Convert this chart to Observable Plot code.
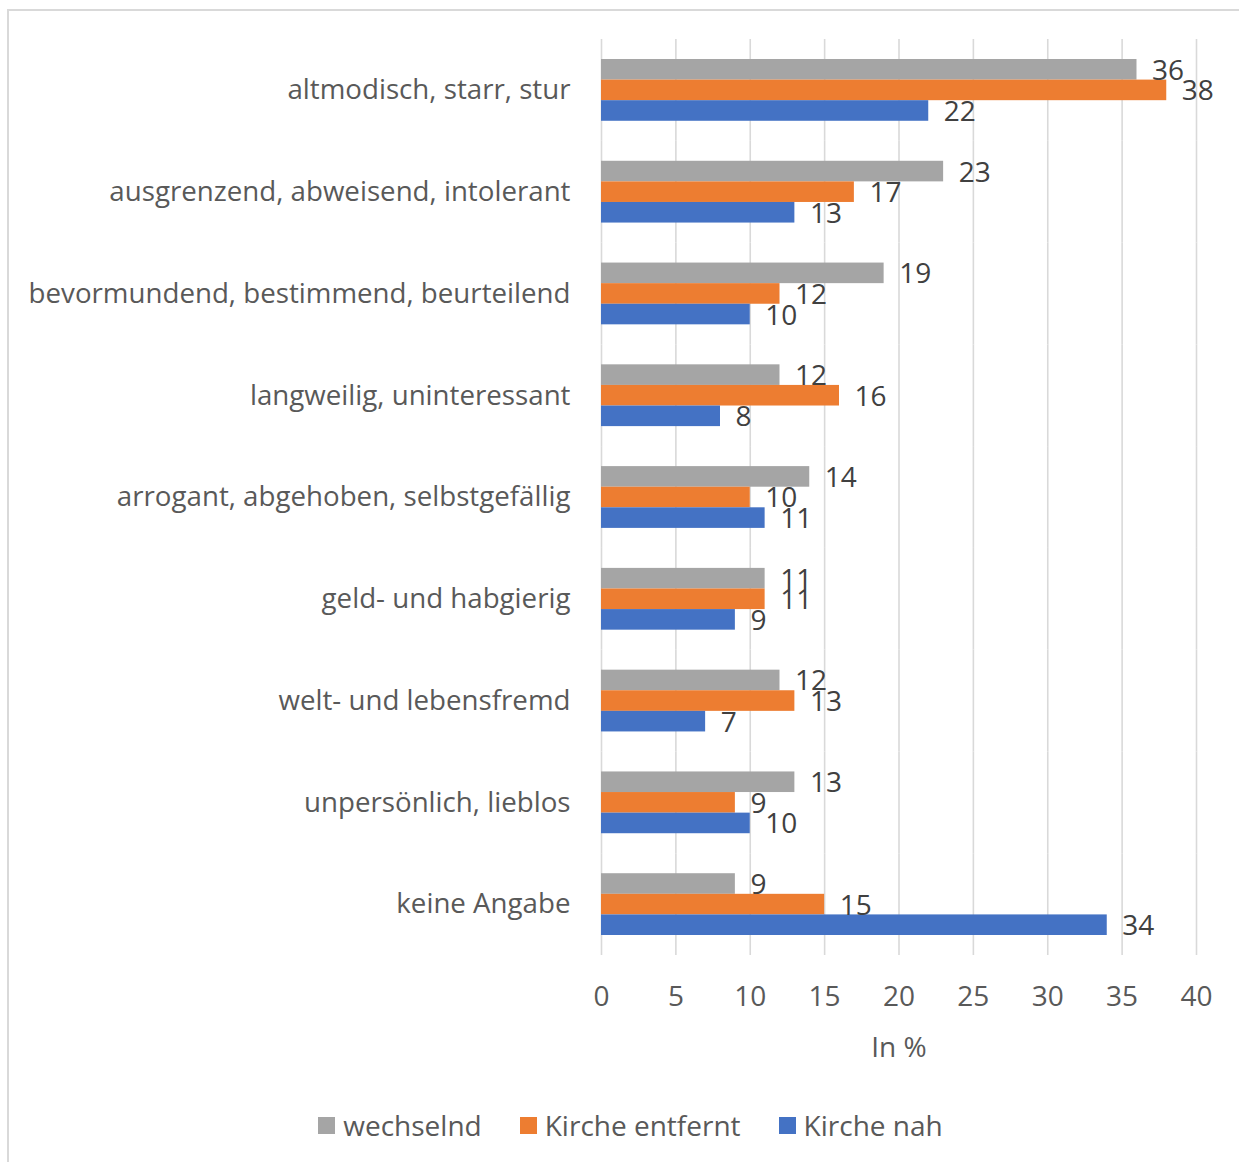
<!DOCTYPE html>
<html lang="de">
<head>
<meta charset="utf-8">
<script src="https://cdn.jsdelivr.net/npm/d3@7"></script>
<script src="https://cdn.jsdelivr.net/npm/@observablehq/plot@0.6"></script>
<style>
  html, body { margin: 0; padding: 0; background: #fff; }
  body { width: 1239px; height: 1162px; position: relative; overflow: hidden; font-family: "Open Sans", Lato, sans-serif; }
  #frame { position: absolute; left: 7px; top: 9px; width: 1260px; height: 1180px; border: 2px solid #d9d9d9; box-sizing: border-box; }
  #chart { position: absolute; left: 0; top: 0; }
  #legend { position: absolute; left: 0; top: 1106px; width: 1239px; display: flex; justify-content: center; padding-left: 22px; box-sizing: border-box; font-size: 28px; color: #595959; }
  .item { display: flex; align-items: center; margin: 0 19px; }
  .sw { width: 17px; height: 17px; margin-right: 8px; }
</style>
</head>
<body>
<div id="frame"></div>
<div id="chart"></div>
<div id="legend"></div>
<script>
// Attribute categories, top to bottom
const categories = [
  "altmodisch, starr, stur",
  "ausgrenzend, abweisend, intolerant",
  "bevormundend, bestimmend, beurteilend",
  "langweilig, uninteressant",
  "arrogant, abgehoben, selbstgefällig",
  "geld- und habgierig",
  "welt- und lebensfremd",
  "unpersönlich, lieblos",
  "keine Angabe"
];

// Groups (bar order within each category)
const series = ["wechselnd", "Kirche entfernt", "Kirche nah"];
const colors = ["#A5A5A5", "#ED7D31", "#4472C4"];

// Percent values per group, aligned with categories
const wechselnd      = [36, 23, 19, 12, 14, 11, 12, 13, 9];
const kircheEntfernt = [38, 17, 12, 16, 10, 11, 13,  9, 15];
const kircheNah      = [22, 13, 10,  8, 11,  9,  7, 10, 34];

const xTicks = [0, 5, 10, 15, 20, 25, 30, 35, 40];

const valuesBySeries = [wechselnd, kircheEntfernt, kircheNah];
const data = [];
categories.forEach((c, i) => {
  series.forEach((s, j) => data.push({category: c, series: s, value: valuesBySeries[j][i]}));
});

const font = "'Open Sans', Lato, sans-serif";

const chart = Plot.plot({
  width: 1239,
  height: 1080,
  marginLeft: 601,
  marginRight: 43,
  marginTop: 39,
  marginBottom: 125,
  style: {fontFamily: font, background: "transparent"},
  x: {domain: [0, 40], ticks: xTicks, label: null},
  fy: {domain: categories, padding: 0, round: false, label: null},
  y: {domain: series, padding: 0, round: false, insetTop: 20, insetBottom: 20, axis: null},
  color: {domain: series, range: colors},
  marks: [
    Plot.gridX(xTicks, {stroke: "#d9d9d9", strokeOpacity: 1, strokeWidth: 1.6}),
    Plot.barX(data, {x: "value", y: "series", fy: "category", fill: "series"}),
    Plot.text(data, {
      x: "value", y: "series", fy: "category", text: d => String(d.value),
      textAnchor: "start", dx: 15, dy: 1, fontSize: 28, fill: "#404040"
    }),
    Plot.axisFy({
      anchor: "left", tickSize: 0, tickPadding: 31, fontSize: 27.7, color: "#595959", label: null
    }),
    Plot.axisX(xTicks, {
      anchor: "bottom", tickSize: 0, tickPadding: 31, fontSize: 28, color: "#595959",
      label: "In %", labelAnchor: "center", labelArrow: "none", labelOffset: 101
    })
  ]
});
document.getElementById("chart").appendChild(chart);

// Legend below the chart
const legend = document.getElementById("legend");
series.forEach((s, j) => {
  const item = document.createElement("div");
  item.className = "item";
  const sw = document.createElement("span");
  sw.className = "sw";
  sw.style.background = colors[j];
  const t = document.createElement("span");
  t.textContent = s;
  item.appendChild(sw);
  item.appendChild(t);
  legend.appendChild(item);
});
</script>
</body>
</html>
